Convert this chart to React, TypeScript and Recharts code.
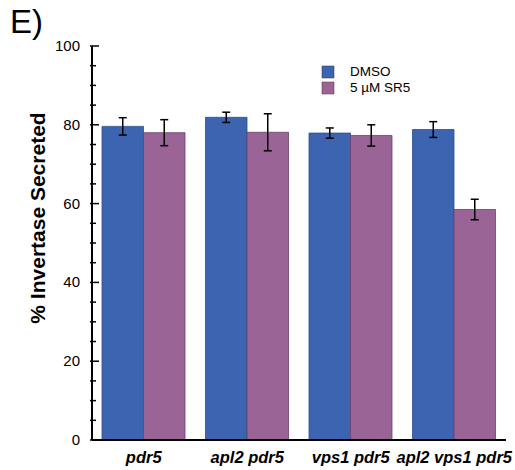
import React from "react";
import { BarChart, Bar, XAxis, YAxis, ErrorBar } from "recharts";

const categories = ["pdr5", "apl2 pdr5", "vps1 pdr5", "apl2 vps1 pdr5"];
const dmso = [79.6, 81.9, 77.9, 78.8];
const dmsoErr = [2.2, 1.3, 1.3, 2.0];
const sr5 = [78.0, 78.1, 77.3, 58.5];
const sr5Err = [3.3, 4.7, 2.7, 2.6];
const yTicks = [0, 5, 10, 15, 20, 25, 30, 35, 40, 45, 50, 55, 60, 65, 70, 75, 80, 85, 90, 95, 100];
const seriesNames = ["DMSO", "5 \u00b5M SR5"];

const data = categories.map((c, i) => ({
  name: c,
  dmso: dmso[i],
  dmsoErr: dmsoErr[i],
  sr5: sr5[i],
  sr5Err: sr5Err[i],
}));

const FONT = "'Liberation Sans', Arial, Helvetica, sans-serif";
const BLUE = "#3d64b0";
const PURPLE = "#9a6496";

const YTick = (props: any) => {
  const { x, y, payload } = props;
  const v = payload.value;
  const major = v % 20 === 0;
  return (
    <g>
      <line x1={x - 2} x2={x + (major ? 7 : 4)} y1={y} y2={y} stroke="#000" strokeWidth={1.5} />
      {major && (
        <text x={x - 12} y={y + 5} textAnchor="end" fontSize={15} fontFamily={FONT} fill="#000">
          {v}
        </text>
      )}
    </g>
  );
};

const XTick = (props: any) => {
  const { x, y, payload } = props;
  return (
    <text x={x} y={y + 23} textAnchor="middle" fontSize={16.5} fontWeight="bold" fontStyle="italic" fontFamily={FONT} fill="#000">
      {payload.value}
    </text>
  );
};

const LegendContent = () => (
  <g>
    <rect x={322} y={66} width={12} height={12} fill={BLUE} stroke="#334" strokeWidth={0.5} />
    <text x={350} y={76} fontSize={13.5} fontFamily={FONT} fill="#000">{seriesNames[0]}</text>
    <rect x={322} y={82} width={12} height={12} fill={PURPLE} stroke="#534" strokeWidth={0.5} />
    <text x={350} y={92} fontSize={13.5} fontFamily={FONT} fill="#000">{seriesNames[1]}</text>
  </g>
);

export default function App() {
  return (
    <div style={{ position: "absolute", left: 0, top: 0, width: 515, height: 470, background: "#fff" }}>
      <svg style={{ position: "absolute", left: 0, top: 0 }} width={515} height={470}>
        <text x={10} y={33} fontSize={33} fontFamily={FONT} fill="#000">E)</text>
        <text
          x={0}
          y={0}
          transform="translate(45,218) rotate(-90)"
          textAnchor="middle"
          fontSize={21}
          fontWeight="bold"
          fontFamily={FONT}
          fill="#000"
        >
          % Invertase Secreted
        </text>
        <LegendContent />
      </svg>
      <div style={{ position: "absolute", left: 0, top: 0 }}>
        <BarChart
          width={515}
          height={470}
          data={data}
          margin={{ top: 46, right: 9, bottom: 0, left: 0 }}
          barGap={0}
          barSize={41.5}
          style={{ background: "transparent" }}
        >
          <XAxis
            dataKey="name"
            height={30}
            axisLine={{ stroke: "#000", strokeWidth: 2 }}
            tickLine={false}
            tickSize={0}
            tickMargin={0}
            tick={<XTick />}
            interval={0}
          />
          <XAxis
            xAxisId="top"
            dataKey="name"
            orientation="top"
            height={0}
            axisLine={{ stroke: "#000", strokeWidth: 2 }}
            tick={false}
            tickLine={false}
          />
          <YAxis
            width={92}
            domain={[0, 100]}
            ticks={yTicks}
            interval={0}
            axisLine={{ stroke: "#000", strokeWidth: 2 }}
            tickLine={false}
            tickSize={0}
            tickMargin={0}
            tick={<YTick />}
          />
          <YAxis
            yAxisId="right"
            orientation="right"
            width={0}
            domain={[0, 100]}
            axisLine={{ stroke: "#000", strokeWidth: 2 }}
            tick={false}
            tickLine={false}
          />
          <Bar dataKey="dmso" fill={BLUE} stroke="#2e4c88" strokeWidth={0.8} isAnimationActive={false}>
            <ErrorBar dataKey="dmsoErr" width={4} stroke="#000" strokeWidth={1.5} />
          </Bar>
          <Bar dataKey="sr5" fill={PURPLE} stroke="#6a4068" strokeWidth={0.8} isAnimationActive={false}>
            <ErrorBar dataKey="sr5Err" width={4} stroke="#000" strokeWidth={1.5} />
          </Bar>
        </BarChart>
      </div>
    </div>
  );
}
